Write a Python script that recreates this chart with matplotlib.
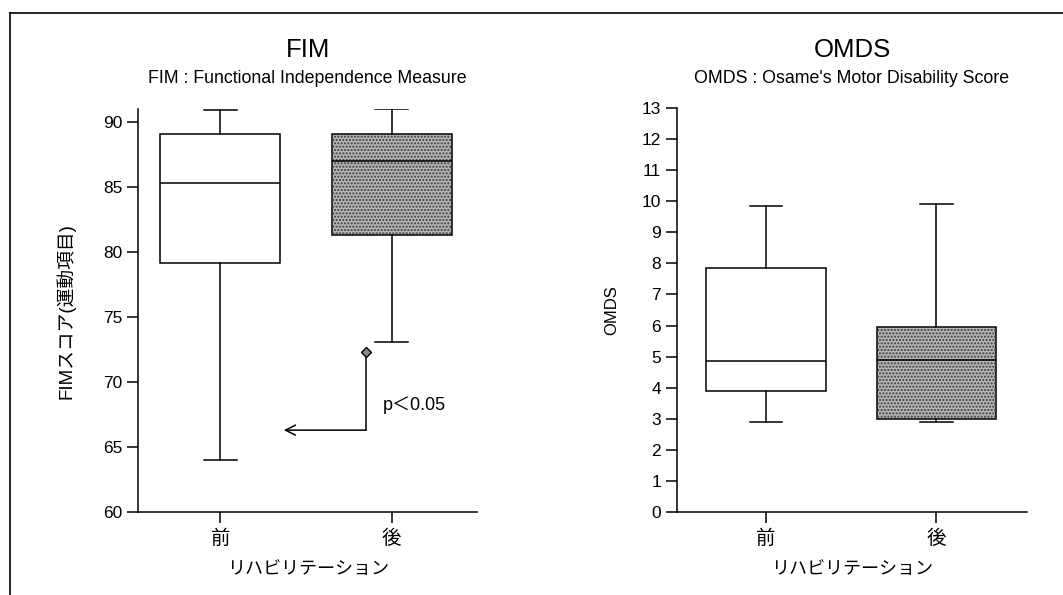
import matplotlib
matplotlib.use("Agg")
import matplotlib.pyplot as plt
from matplotlib.patches import PathPatch
from matplotlib.lines import Line2D

plt.rcParams['font.family'] = ['Liberation Sans', 'Noto Sans CJK JP', 'DejaVu Sans']

# カテゴリ
groups = ['前', '後']

# FIM の箱ひげ図の値 (下ひげ, Q1, 中央値, Q3, 上ひげ)
fim_low = [64.0, 73.1]
fim_q1 = [79.2, 81.3]
fim_med = [85.3, 87.0]
fim_q3 = [89.1, 89.1]
fim_high = [90.9, 91.0]

# OMDS の箱ひげ図の値
omds_low = [2.9, 2.9]
omds_q1 = [3.9, 3.0]
omds_med = [4.85, 4.9]
omds_q3 = [7.85, 5.95]
omds_high = [9.85, 9.9]

# 有意差の注釈 (後 → 前)
sig_from = (1.85, 72.3)
sig_corner = (1.85, 66.3)
sig_to = (1.37, 66.3)
sig_text = 'p＜0.05'


def make_stats(low, q1, med, q3, high):
    stats = []
    for i in range(len(low)):
        stats.append({'whislo': low[i], 'q1': q1[i], 'med': med[i],
                      'q3': q3[i], 'whishi': high[i], 'fliers': []})
    return stats


def draw_panel(ax, stats, title, subtitle, ylabel, ylab_size, ylab_pad,
               ylim, yticks, xlim):
    bp = ax.bxp(stats, positions=[1, 2], widths=0.7, patch_artist=True,
                showfliers=False, capwidths=0.19,
                boxprops=dict(linewidth=1.1, edgecolor='black'),
                medianprops=dict(color='black', linewidth=1.1),
                whiskerprops=dict(color='black', linewidth=1.1),
                capprops=dict(color='black', linewidth=1.1))
    bp['boxes'][0].set_facecolor('white')
    bp['boxes'][1].set_facecolor('#b4b4b4')
    # 後の箱にざらざらした模様
    tex = PathPatch(bp['boxes'][1].get_path(), facecolor='none',
                    edgecolor='#3c3c3c', linewidth=0, hatch='.....', zorder=2.1)
    ax.add_patch(tex)
    for m in bp['medians']:
        m.set_zorder(3)

    ax.set_xlim(xlim)
    ax.set_ylim(ylim)
    ax.set_yticks(yticks)
    ax.set_xticks([1, 2])
    ax.set_xticklabels(groups, fontsize=14)
    ax.tick_params(axis='y', labelsize=12.5, length=8, width=1.1, direction='out')
    ax.tick_params(axis='x', length=8, width=1.1, direction='out', pad=5)
    ax.spines['top'].set_visible(False)
    ax.spines['right'].set_visible(False)
    ax.spines['left'].set_linewidth(1.1)
    ax.spines['bottom'].set_linewidth(1.1)
    ax.set_xlabel('リハビリテーション', fontsize=13, labelpad=9)
    ax.set_ylabel(ylabel, fontsize=ylab_size, labelpad=ylab_pad)

    # タイトルと副題 (図座標で位置決め)
    pos = ax.get_position()
    xc = pos.x0 + pos.width / 2
    fig.text(xc, 0.904, title, ha='center', va='baseline', fontsize=18.5)
    fig.text(xc, 0.861, subtitle, ha='center', va='baseline', fontsize=12.8)


fig = plt.figure(figsize=(10.63, 5.95), dpi=100)

ax1 = fig.add_axes([0.130, 0.1395, 0.319, 0.677])
draw_panel(ax1, make_stats(fim_low, fim_q1, fim_med, fim_q3, fim_high),
           'FIM', 'FIM : Functional Independence Measure',
           'FIMスコア(運動項目)', 13.5, 20, (60, 91),
           [60, 65, 70, 75, 80, 85, 90], (0.52, 2.5))

# 有意差の矢印
ax1.plot([sig_from[0], sig_corner[0]], [sig_from[1], sig_corner[1]],
         color='black', linewidth=1.1)
ax1.plot(sig_from[0], sig_from[1], marker='D', markersize=5,
         markerfacecolor='#888888', markeredgecolor='black', zorder=4)
ax1.annotate('', xy=sig_to, xytext=sig_corner,
             arrowprops=dict(arrowstyle='->', color='black', linewidth=1.1,
                             mutation_scale=18, shrinkA=0, shrinkB=0))
ax1.text(2.13, 68.2, sig_text, fontsize=13, ha='center', va='center')

ax2 = fig.add_axes([0.637, 0.1395, 0.329, 0.679])
draw_panel(ax2, make_stats(omds_low, omds_q1, omds_med, omds_q3, omds_high),
           'OMDS', "OMDS : Osame's Motor Disability Score",
           'OMDS', 12, 16, (0, 13), list(range(0, 14)), (0.48, 2.53))

# 枠線 (上と左)
fig.add_artist(Line2D([0.009, 1.0], [0.978, 0.978], transform=fig.transFigure,
                      color='black', linewidth=1.2))
fig.add_artist(Line2D([0.009, 0.009], [0.0, 0.978], transform=fig.transFigure,
                      color='black', linewidth=1.2))

fig.savefig('out.png', dpi=100)
